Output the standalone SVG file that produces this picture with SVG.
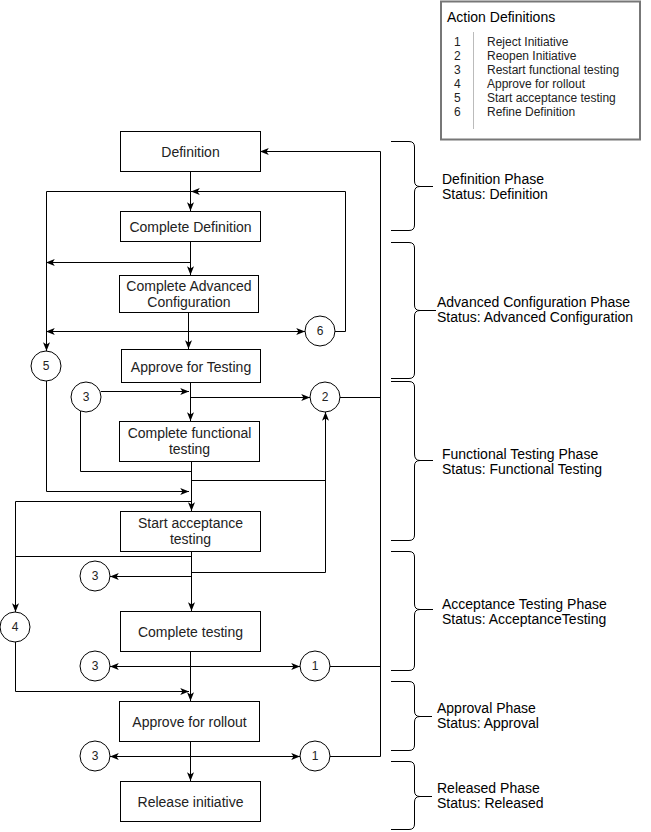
<svg xmlns="http://www.w3.org/2000/svg" width="651" height="832" viewBox="0 0 651 832">
<style>
.box{fill:#fff;stroke:#000;stroke-width:1}
.circ{fill:#fff;stroke:#000;stroke-width:1}
.t{font-family:"Liberation Sans",Arial,sans-serif;font-size:14px;fill:#000}
.tc{font-family:"Liberation Sans",Arial,sans-serif;font-size:14px;fill:#222;text-anchor:middle}
.tn{font-family:"Liberation Sans",Arial,sans-serif;font-size:12px;fill:#222;text-anchor:middle}
.tl{font-family:"Liberation Sans",Arial,sans-serif;font-size:12px;fill:#222}
.c{fill:none;stroke:#000;stroke-width:1}
.a{marker-end:url(#arr)}
.br{fill:none;stroke:#000;stroke-width:1}
</style>
<defs>
<marker id="arr" viewBox="0 0 10 8" refX="10" refY="4" markerWidth="9" markerHeight="7" markerUnits="userSpaceOnUse" orient="auto">
<path d="M0,0 L10,4 L0,8 L2.5,4 Z" fill="#000"/>
</marker>
</defs>
<rect width="651" height="832" fill="#fff"/>

<g id="connectors">
<path class="c a" d="M190.5,171 V211"/>
<path class="c a" d="M190.5,241 V275"/>
<path class="c a" d="M188.5,312 V349"/>
<path class="c a" d="M190.5,382 V421"/>
<path class="c a" d="M191.5,461 V511"/>
<path class="c a" d="M191.5,551 V611"/>
<path class="c a" d="M190.5,651 V701"/>
<path class="c a" d="M190.5,741 V781"/>

<path class="c a" d="M190.5,191.5 H46.5 V351"/>
<path class="c a" d="M190.5,262.5 H46"/>
<path class="c a" d="M188.5,331.5 H305"/>
<path class="c a" d="M188.5,331.5 H46"/>
<path class="c a" d="M335,331.5 H345.5 V191.5 H191"/>

<path class="c a" d="M101,391.5 H189"/>
<path class="c a" d="M190.5,397.5 H310"/>
<path class="c" d="M80.5,411 V471.5 H191.5"/>
<path class="c a" d="M46.5,381 V491.5 H189"/>
<path class="c a" d="M191.5,480.5 H325.5 V412"/>
<path class="c" d="M191.5,572.5 H325.5 V480"/>
<path class="c a" d="M191.5,501.5 H15.5 V612"/>
<path class="c" d="M191.5,556.5 H15.5"/>
<path class="c a" d="M191.5,576.5 H110"/>
<path class="c a" d="M15.5,642 V691.5 H189"/>

<path class="c a" d="M190.5,666.5 H110"/>
<path class="c a" d="M190.5,666.5 H300"/>
<path class="c a" d="M330,666.5 H380.5 V151.5 H260"/>
<path class="c a" d="M190.5,756.5 H110"/>
<path class="c a" d="M190.5,756.5 H300"/>
<path class="c" d="M330,756.5 H380.5 V666"/>
<path class="c" d="M340,397.5 H380.5"/>
</g>

<g id="n-definition"><rect class="box" x="120.5" y="131.5" width="140" height="40"/><text class="tc" x="190.5" y="157">Definition</text></g>
<g id="n-complete-definition"><rect class="box" x="120.5" y="211.5" width="140" height="30"/><text class="tc" x="190.5" y="232">Complete Definition</text></g>
<g id="n-complete-advanced"><rect class="box" x="119.5" y="275.5" width="139" height="37"/><text class="tc" x="189" y="291">Complete Advanced</text><text class="tc" x="189" y="307">Configuration</text></g>
<g id="n-approve-testing"><rect class="box" x="121.5" y="349.5" width="139" height="33"/><text class="tc" x="191" y="372">Approve for Testing</text></g>
<g id="n-complete-functional"><rect class="box" x="119.5" y="421.5" width="140" height="40"/><text class="tc" x="189.5" y="438">Complete functional</text><text class="tc" x="189.5" y="454">testing</text></g>
<g id="n-start-acceptance"><rect class="box" x="120.5" y="511.5" width="140" height="40"/><text class="tc" x="190.5" y="528">Start acceptance</text><text class="tc" x="190.5" y="544">testing</text></g>
<g id="n-complete-testing"><rect class="box" x="120.5" y="611.5" width="140" height="40"/><text class="tc" x="190.5" y="637">Complete testing</text></g>
<g id="n-approve-rollout"><rect class="box" x="119.5" y="701.5" width="140" height="40"/><text class="tc" x="189.5" y="727">Approve for rollout</text></g>
<g id="n-release"><rect class="box" x="120.5" y="781.5" width="140" height="40"/><text class="tc" x="190.5" y="807">Release initiative</text></g>

<g id="c5"><circle class="circ" cx="46" cy="366" r="15"/><text class="tn" x="46" y="370">5</text></g>
<g id="c6"><circle class="circ" cx="320" cy="331" r="15"/><text class="tn" x="320" y="335">6</text></g>
<g id="c3a"><circle class="circ" cx="86" cy="397" r="15"/><text class="tn" x="86" y="401">3</text></g>
<g id="c2"><circle class="circ" cx="325" cy="397" r="15"/><text class="tn" x="325" y="401">2</text></g>
<g id="c3b"><circle class="circ" cx="95" cy="576" r="15"/><text class="tn" x="95" y="580">3</text></g>
<g id="c4"><circle class="circ" cx="15" cy="627" r="15"/><text class="tn" x="15" y="631">4</text></g>
<g id="c3c"><circle class="circ" cx="95" cy="666" r="15"/><text class="tn" x="95" y="670">3</text></g>
<g id="c1a"><circle class="circ" cx="315" cy="666" r="15"/><text class="tn" x="315" y="670">1</text></g>
<g id="c3d"><circle class="circ" cx="95" cy="756" r="15"/><text class="tn" x="95" y="760">3</text></g>
<g id="c1b"><circle class="circ" cx="315" cy="756" r="15"/><text class="tn" x="315" y="760">1</text></g>

<g id="phase-definition">
<path class="br" d="M391,141.5 H409 Q414.5,141.5 414.5,147 V181 Q414.5,186.5 420,186.5 H433 M420,186.5 Q414.5,186.5 414.5,192 V225 Q414.5,230.5 409,230.5 H391"/>
<text class="t" x="442" y="184">Definition Phase</text><text class="t" x="442" y="199">Status: Definition</text>
</g>
<g id="phase-advanced">
<path class="br" d="M391,242.5 H409 Q414.5,242.5 414.5,248 V305 Q414.5,310.5 420,310.5 H436 M420,310.5 Q414.5,310.5 414.5,316 V373 Q414.5,378.5 409,378.5 H391"/>
<text class="t" x="437" y="307">Advanced Configuration Phase</text><text class="t" x="437" y="322">Status: Advanced Configuration</text>
</g>
<g id="phase-functional">
<path class="br" d="M391,381.5 H409 Q414.5,381.5 414.5,387 V454 Q414.5,460.5 420,460.5 H433 M420,460.5 Q414.5,460.5 414.5,466 V535 Q414.5,540.5 409,540.5 H391"/>
<text class="t" x="442" y="459">Functional Testing Phase</text><text class="t" x="442" y="474">Status: Functional Testing</text>
</g>
<g id="phase-acceptance">
<path class="br" d="M391,551.5 H409 Q414.5,551.5 414.5,557 V604 Q414.5,609.5 420,609.5 H433 M420,609.5 Q414.5,609.5 414.5,615 V665 Q414.5,670.5 409,670.5 H391"/>
<text class="t" x="442" y="609">Acceptance Testing Phase</text><text class="t" x="442" y="624">Status: AcceptanceTesting</text>
</g>
<g id="phase-approval">
<path class="br" d="M391,681.5 H409 Q414.5,681.5 414.5,687 V711 Q414.5,716.5 420,716.5 H432 M420,716.5 Q414.5,716.5 414.5,722 V745 Q414.5,750.5 409,750.5 H391"/>
<text class="t" x="437" y="713">Approval Phase</text><text class="t" x="437" y="728">Status: Approval</text>
</g>
<g id="phase-released">
<path class="br" d="M391,761.5 H409 Q414.5,761.5 414.5,767 V791 Q414.5,796.5 420,796.5 H432 M420,796.5 Q414.5,796.5 414.5,802 V824 Q414.5,829.5 409,829.5 H391"/>
<text class="t" x="437" y="793">Released Phase</text><text class="t" x="437" y="808">Status: Released</text>
</g>

<g id="legend">
<rect x="441" y="1.5" width="199" height="138" fill="#fff" stroke="#777" stroke-width="2"/>
<text class="t" x="447" y="22">Action Definitions</text>
<line x1="473.5" y1="32" x2="473.5" y2="129" stroke="#bbb" stroke-width="1"/>
<text class="tl" x="454" y="46">1</text><text class="tl" x="487" y="46">Reject Initiative</text>
<text class="tl" x="454" y="60">2</text><text class="tl" x="487" y="60">Reopen Initiative</text>
<text class="tl" x="454" y="74">3</text><text class="tl" x="487" y="74">Restart functional testing</text>
<text class="tl" x="454" y="88">4</text><text class="tl" x="487" y="88">Approve for rollout</text>
<text class="tl" x="454" y="102">5</text><text class="tl" x="487" y="102">Start acceptance testing</text>
<text class="tl" x="454" y="116">6</text><text class="tl" x="487" y="116">Refine Definition</text>
</g>
</svg>
